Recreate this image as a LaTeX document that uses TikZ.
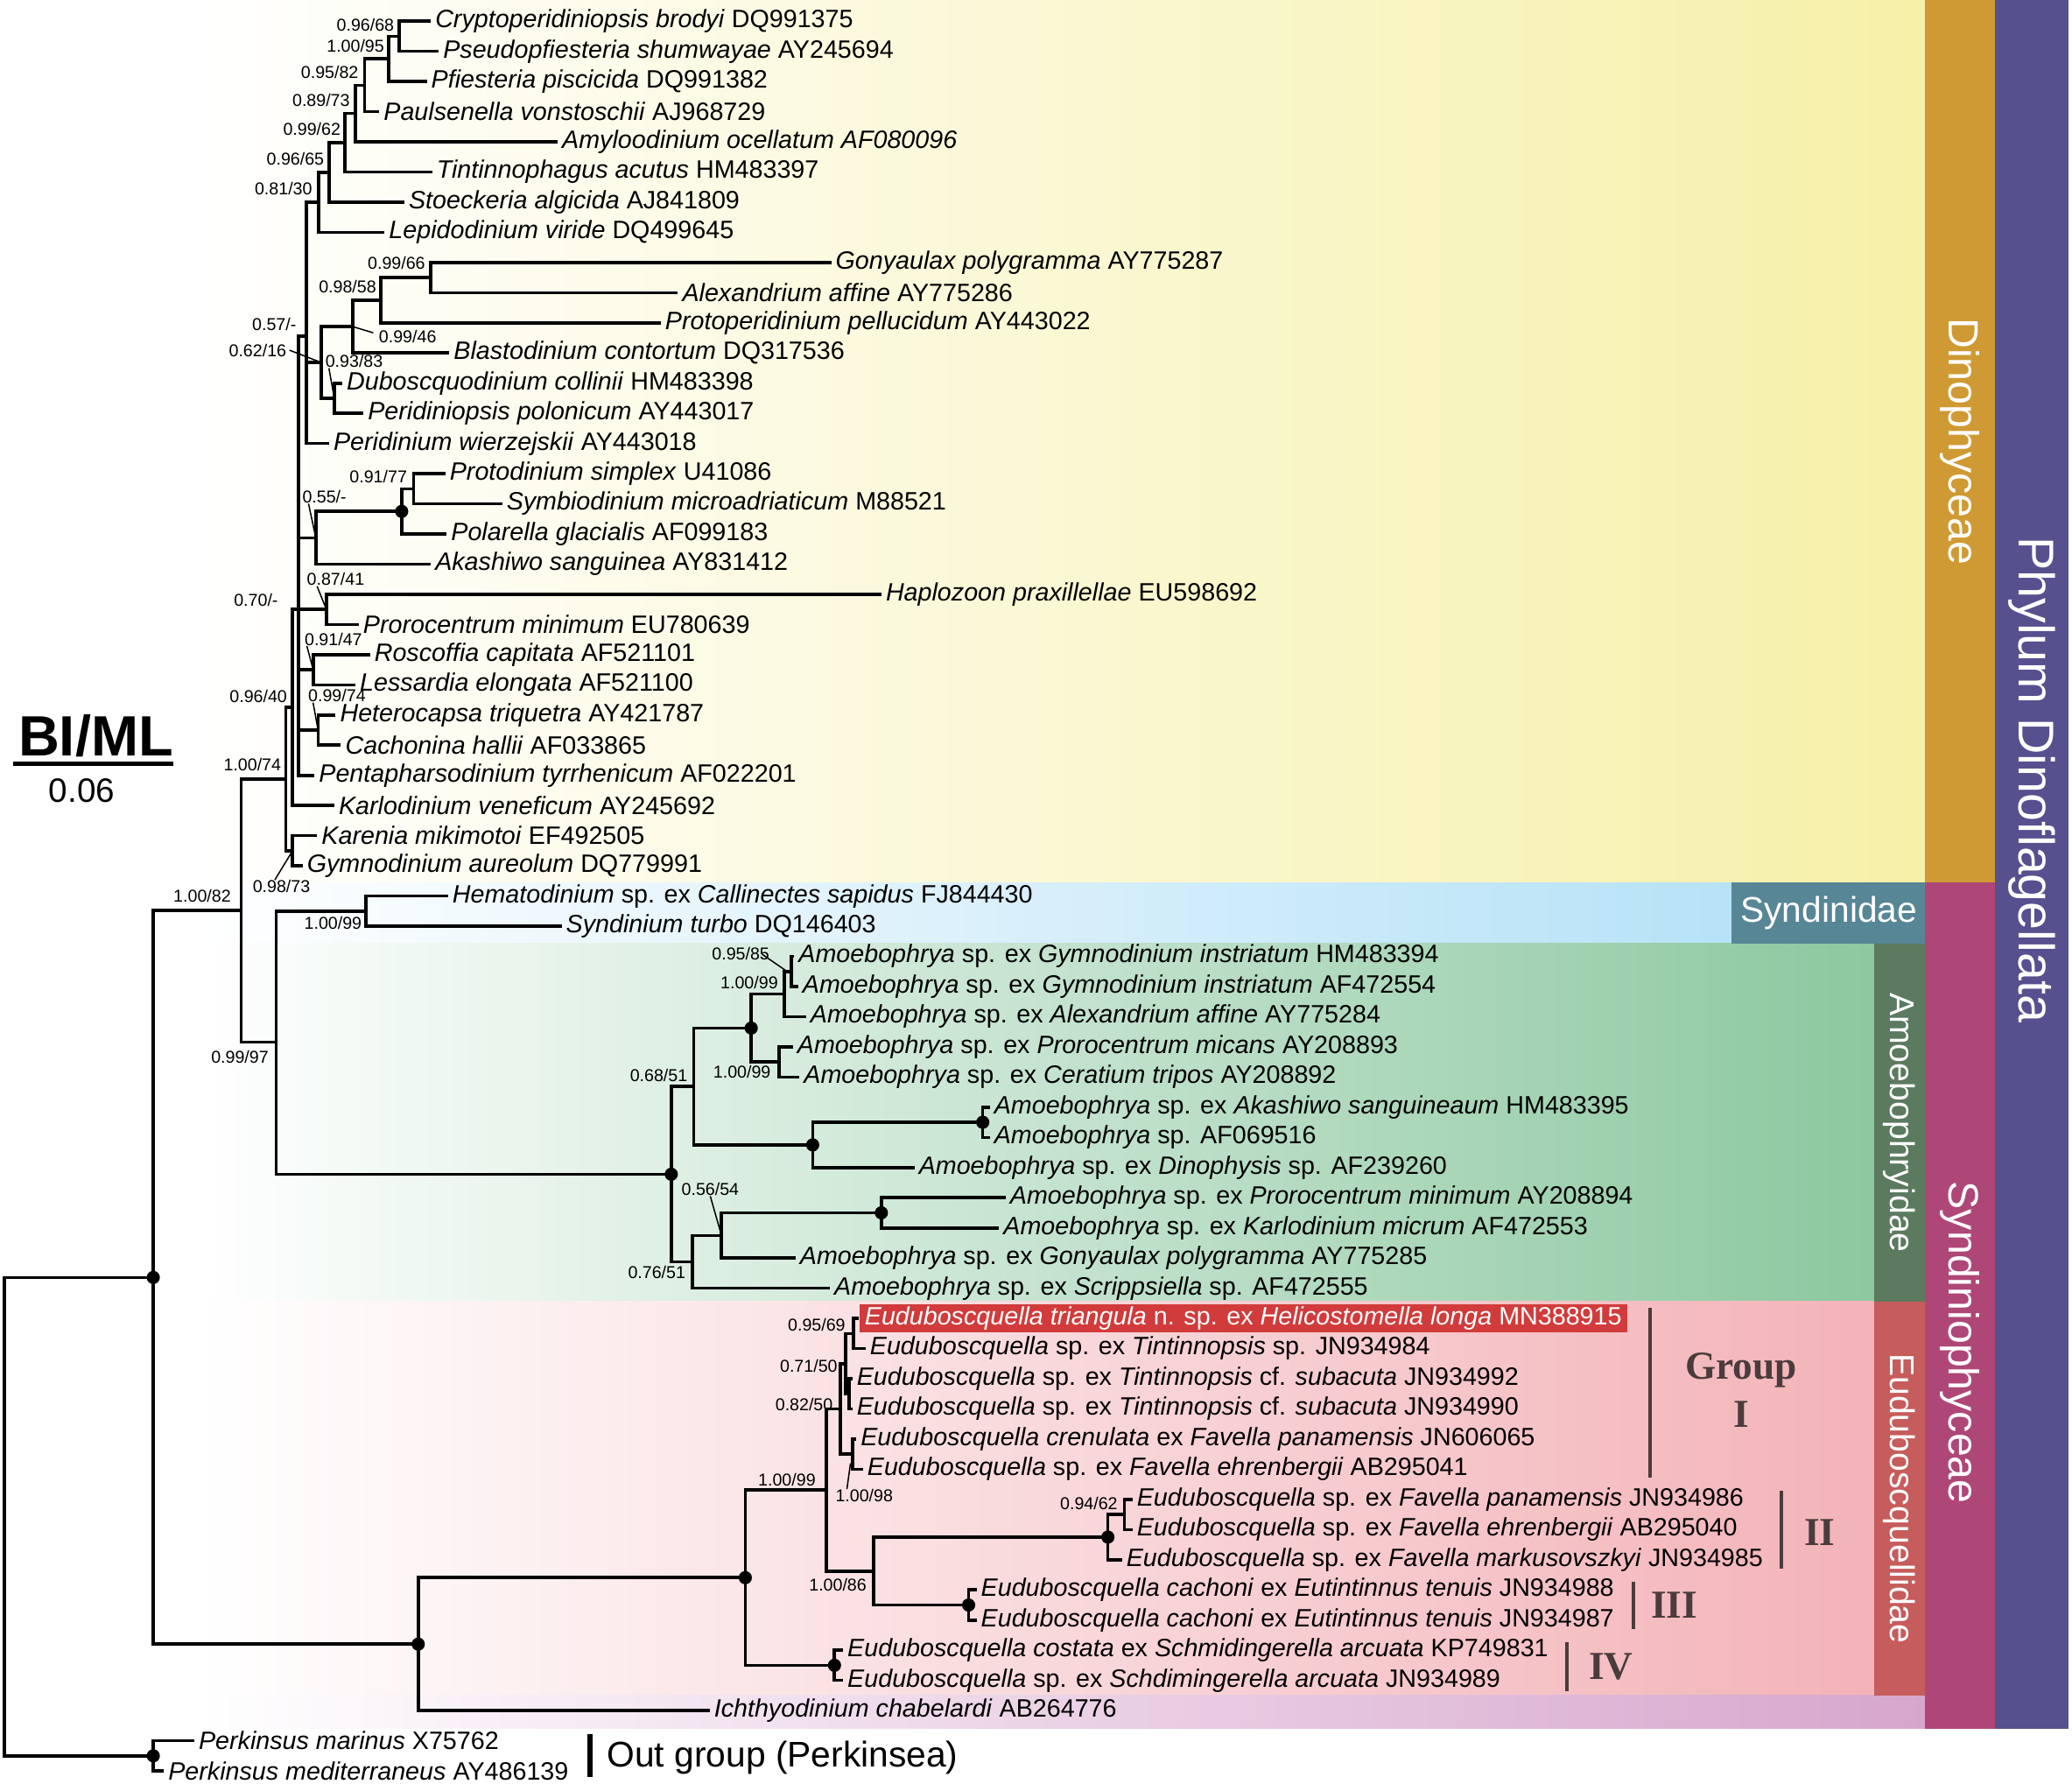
\documentclass[tikz,border=0pt]{standalone}
\usepackage{fontspec}
\setmainfont{Liberation Sans}
\newfontfamily\grpfont{Liberation Serif}
\usetikzlibrary{calc}
\definecolor{yelbg}{HTML}{F6F0A8}
\definecolor{bluebg}{HTML}{B7E2F7}
\definecolor{greenbg}{HTML}{8CC8A0}
\definecolor{pinkbg}{HTML}{F3B3B8}
\definecolor{lavbg}{HTML}{D7A6CD}
\definecolor{orng}{HTML}{CF9A33}
\definecolor{purp}{HTML}{57508F}
\definecolor{mag}{HTML}{AE4777}
\definecolor{synbox}{HTML}{578696}
\definecolor{amobox}{HTML}{5B7A5F}
\definecolor{eudbox}{HTML}{C65C5C}
\definecolor{redbox}{HTML}{D13B3B}
\definecolor{grpcol}{HTML}{4A3C3C}
\begin{document}
\begin{tikzpicture}[x=0.5pt,y=-0.5pt,
  br/.style={line width=1.2pt,black},
  lead/.style={line width=0.5pt,black},
  tax/.style={anchor=west,inner xsep=1.5pt,inner ysep=0pt,font=\fontsize{9.5}{11}\selectfont},
  sup/.style={inner sep=0pt,font=\fontsize{6.5}{7.5}\selectfont},
  dotn/.style={circle,fill=black,inner sep=0pt,minimum size=5pt},
  bandtxt/.style={text=white,rotate=-90,inner sep=0pt},
  grp/.style={text=grpcol,font=\grpfont\bfseries\fontsize{15}{16}\selectfont,inner sep=0pt},
  grpbar/.style={draw=grpcol,line width=1.3pt}]
\useasboundingbox (0,0) rectangle (1568,1350);
\fill[white] (0,0) rectangle (1568,1350);
% ---------- background bands ----------
\shade[left color=white,right color=yelbg] (150,0) rectangle (1457,668);
\shade[left color=white,right color=bluebg] (150,668) rectangle (1310,714);
\shade[left color=white,right color=greenbg] (150,714) rectangle (1418,985);
\shade[left color=white,right color=pinkbg] (150,985) rectangle (1418,1283);
\shade[left color=white,right color=lavbg] (150,1283) rectangle (1457,1308);
\fill[orng] (1457,0) rectangle (1510,668);
\fill[mag] (1457,668) rectangle (1510,1308);
\fill[purp] (1510,0) rectangle (1565,1308);
\fill[synbox] (1310,668) rectangle (1457,714);
\fill[amobox] (1418,714) rectangle (1457,985);
\fill[eudbox] (1418,985) rectangle (1457,1283);
\node[bandtxt,font=\fontsize{16}{18}\selectfont] (tDino) at (1483.5,334) {Dinophyceae};
\node[bandtxt,font=\fontsize{19}{21}\selectfont] (tPhy) at (1537.5,590) {Phylum Dinoflagellata};
\node[bandtxt,font=\fontsize{16}{18}\selectfont] (tSyp) at (1483.5,1016) {Syndiniophyceae};
\node[bandtxt,font=\fontsize{13}{15}\selectfont] (tAmo) at (1437.5,849.5) {Amoebophryidae};
\node[bandtxt,font=\fontsize{13}{15}\selectfont] (tEud) at (1437.5,1134) {Euduboscquellidae};
\node[text=white,inner sep=0pt,font=\fontsize{13.5}{15}\selectfont] (tSyn) at (1384,691) {Syndinidae};
% ---------- tips ----------
\foreach \i/\x in {1/326,2/332,3/323,4/287,5/422,6/327,7/306,8/291,9/629,10/513,
  11/500,12/340,13/259,14/275,15/249,16/337,17/380,18/338,19/326,20/667,
  21/271.5,22/280,23/269,24/254,25/258,26/238,27/253,28/240,29/229,30/339,
  31/425,32/601,33/604,34/610,35/600,36/605,37/749,38/749,39/692,40/761,
  41/756,42/602,43/628,44/650,45/655,46/645,47/645,48/648,49/653,50/857,
  51/857,52/849,53/739,54/739,55/638,56/638,57/537,58/147,59/124}
  {\coordinate (t\i) at (\x,{16+(\i-1)*22.83});}
% ---------- internal nodes ----------
\coordinate (n1) at (302,27.4);
\coordinate (n2) at (294,44.5);
\coordinate (n3) at (276,64.5);
\coordinate (n4) at (269,85.9);
\coordinate (n5) at (261,108.1);
\coordinate (n6) at (249,130.5);
\coordinate (n7) at (241,153.2);
\coordinate (n8) at (326,210.1);
\coordinate (n9) at (288,227.2);
\coordinate (n10) at (267,247.2);
\coordinate (n11) at (253,301.4);
\coordinate (n12) at (243,274.3);
\coordinate (n13) at (232,254.4);
\coordinate (n14) at (313,369.9);
\coordinate (n15) at (304,387.0);
\coordinate (n16) at (239,407.0);
\coordinate (n17) at (247,461.2);
\coordinate (n18) at (237,506.8);
\coordinate (n19) at (240.7,552.5);
\coordinate (n20) at (225.8,461.2);
\coordinate (n21) at (221.4,535.4);
\coordinate (n22) at (221.4,643.8);
\coordinate (n23) at (216.3,589.6);
\coordinate (n24) at (182.5,689.1);
\coordinate (n25) at (277,689.5);
\coordinate (n26) at (209,788.6);
\coordinate (a1) at (598.7,735.2);
\coordinate (a2) at (593.6,752.3);
\coordinate (a3) at (589.4,803.6);
\coordinate (a4) at (568.5,778.0);
\coordinate (a5) at (743.7,849.3);
\coordinate (a6) at (615,866.4);
\coordinate (a7) at (525,822.2);
\coordinate (a8) at (667,917.8);
\coordinate (a9) at (546,934.9);
\coordinate (a10) at (524,954.9);
\coordinate (a11) at (508,888.6);
\coordinate (e1) at (645.9,1009.1);
\coordinate (e2) at (642.5,1054.8);
\coordinate (e3) at (640,1032.0);
\coordinate (e4) at (645.2,1100.4);
\coordinate (e5) at (636,1066.2);
\coordinate (e6) at (851,1146.1);
\coordinate (e7) at (838.4,1163.2);
\coordinate (e8) at (733,1214.6);
\coordinate (e9) at (661,1188.9);
\coordinate (e10) at (625.5,1127.6);
\coordinate (e11) at (631.5,1260.2);
\coordinate (e12) at (564,1193.9);
\coordinate (e13) at (316.5,1244.2);
\coordinate (r1) at (116,966.7);
\coordinate (p1) at (116,1328.7);
\coordinate (root) at (3.5,1147.7);
% ---------- branches ----------
\foreach \p/\c in {n1/t1,n1/t2,n2/n1,n2/t3,n3/n2,n3/t4,n4/n3,n4/t5,n5/n4,n5/t6,n6/n5,n6/t7,n7/n6,n7/t8,
  n8/t9,n8/t10,n9/n8,n9/t11,n10/n9,n10/t12,n11/t13,n11/t14,n12/n10,n12/n11,n13/n7,n13/n12,n13/t15,
  n14/t16,n14/t17,n15/n14,n15/t18,n16/n15,n16/t19,n17/t20,n17/t21,n18/t22,n18/t23,n19/t24,n19/t25,
  n20/n13,n20/n16,n20/n17,n20/n18,n20/n19,n20/t26,n21/n20,n21/t27,n22/t28,n22/t29,n23/n21,n23/n22,
  n24/n23,n24/n26,n25/t30,n25/t31,n26/n25,n26/a11,
  a1/t32,a1/t33,a2/a1,a2/t34,a3/t35,a3/t36,a4/a2,a4/a3,a5/t37,a5/t38,a6/a5,a6/t39,a7/a4,a7/a6,
  a8/t40,a8/t41,a9/a8,a9/t42,a10/a9,a10/t43,a11/a7,a11/a10,
  e1/t44,e1/t45,e2/t46,e2/t47,e3/e1,e3/e2,e4/t48,e4/t49,e5/e3,e5/e4,e6/t50,e6/t51,e7/e6,e7/t52,
  e8/t53,e8/t54,e9/e7,e9/e8,e10/e5,e10/e9,e11/t55,e11/t56,e12/e10,e12/e11,e13/e12,e13/t57,
  r1/n24,r1/e13,p1/t58,p1/t59,root/r1,root/p1}
  {\draw[br] (\p) |- (\c);}
% ---------- dots ----------
\node[dotn] (d1) at (n15) {};
\node[dotn] (d2) at (a4) {};
\node[dotn] (d3) at (a5) {};
\node[dotn] (d4) at (a6) {};
\node[dotn] (d5) at (a8) {};
\node[dotn] (d6) at (a11) {};
\node[dotn] (d7) at (e7) {};
\node[dotn] (d8) at (e8) {};
\node[dotn] (d9) at (e11) {};
\node[dotn] (d10) at (e12) {};
\node[dotn] (d11) at (e13) {};
\node[dotn] (d12) at (r1) {};
\node[dotn] (d13) at (p1) {};
% ---------- tip labels ----------
\node[tax] (L1) at (t1) {\textit{Cryptoperidiniopsis brodyi} DQ991375};
\node[tax] (L2) at (t2) {\textit{Pseudopfiesteria shumwayae} AY245694};
\node[tax] (L3) at (t3) {\textit{Pfiesteria piscicida} DQ991382};
\node[tax] (L4) at (t4) {\textit{Paulsenella vonstoschii} AJ968729};
\node[tax] (L5) at (t5) {\textit{Amyloodinium ocellatum AF080096}};
\node[tax] (L6) at (t6) {\textit{Tintinnophagus acutus} HM483397};
\node[tax] (L7) at (t7) {\textit{Stoeckeria algicida} AJ841809};
\node[tax] (L8) at (t8) {\textit{Lepidodinium viride} DQ499645};
\node[tax] (L9) at (t9) {\textit{Gonyaulax polygramma} AY775287};
\node[tax] (L10) at (t10) {\textit{Alexandrium affine} AY775286};
\node[tax] (L11) at (t11) {\textit{Protoperidinium pellucidum} AY443022};
\node[tax] (L12) at (t12) {\textit{Blastodinium contortum} DQ317536};
\node[tax] (L13) at (t13) {\textit{Duboscquodinium collinii} HM483398};
\node[tax] (L14) at (t14) {\textit{Peridiniopsis polonicum} AY443017};
\node[tax] (L15) at (t15) {\textit{Peridinium wierzejskii} AY443018};
\node[tax] (L16) at (t16) {\textit{Protodinium simplex} U41086};
\node[tax] (L17) at (t17) {\textit{Symbiodinium microadriaticum} M88521};
\node[tax] (L18) at (t18) {\textit{Polarella glacialis} AF099183};
\node[tax] (L19) at (t19) {\textit{Akashiwo sanguinea} AY831412};
\node[tax] (L20) at (t20) {\textit{Haplozoon praxillellae} EU598692};
\node[tax] (L21) at (t21) {\textit{Prorocentrum minimum} EU780639};
\node[tax] (L22) at (t22) {\textit{Roscoffia capitata} AF521101};
\node[tax] (L23) at (t23) {\textit{Lessardia elongata} AF521100};
\node[tax] (L24) at (t24) {\textit{Heterocapsa triquetra} AY421787};
\node[tax] (L25) at (t25) {\textit{Cachonina hallii} AF033865};
\node[tax] (L26) at (t26) {\textit{Pentapharsodinium tyrrhenicum} AF022201};
\node[tax] (L27) at (t27) {\textit{Karlodinium veneficum} AY245692};
\node[tax] (L28) at (t28) {\textit{Karenia mikimotoi} EF492505};
\node[tax] (L29) at (t29) {\textit{Gymnodinium aureolum} DQ779991};
\node[tax] (L30) at (t30) {\textit{Hematodinium} sp. ex \textit{Callinectes sapidus} FJ844430};
\node[tax] (L31) at (t31) {\textit{Syndinium turbo} DQ146403};
\node[tax] (L32) at (t32) {\textit{Amoebophrya} sp. ex \textit{Gymnodinium instriatum} HM483394};
\node[tax] (L33) at (t33) {\textit{Amoebophrya} sp. ex \textit{Gymnodinium instriatum} AF472554};
\node[tax] (L34) at (t34) {\textit{Amoebophrya} sp. ex \textit{Alexandrium affine} AY775284};
\node[tax] (L35) at (t35) {\textit{Amoebophrya} sp. ex \textit{Prorocentrum micans} AY208893};
\node[tax] (L36) at (t36) {\textit{Amoebophrya} sp. ex \textit{Ceratium tripos} AY208892};
\node[tax] (L37) at (t37) {\textit{Amoebophrya} sp. ex \textit{Akashiwo sanguineaum} HM483395};
\node[tax] (L38) at (t38) {\textit{Amoebophrya} sp. AF069516};
\node[tax] (L39) at (t39) {\textit{Amoebophrya} sp. ex \textit{Dinophysis} sp. AF239260};
\node[tax] (L40) at (t40) {\textit{Amoebophrya} sp. ex \textit{Prorocentrum minimum} AY208894};
\node[tax] (L41) at (t41) {\textit{Amoebophrya} sp. ex \textit{Karlodinium micrum} AF472553};
\node[tax] (L42) at (t42) {\textit{Amoebophrya} sp. ex \textit{Gonyaulax polygramma} AY775285};
\node[tax] (L43) at (t43) {\textit{Amoebophrya} sp. ex \textit{Scrippsiella} sp. AF472555};
\node[tax,fill=redbox,text=white,inner xsep=2pt,minimum height=10.5pt] (L44) at (t44) {\textit{Euduboscquella triangula} n. sp. ex \textit{Helicostomella longa} MN388915};
\node[tax] (L45) at (t45) {\textit{Euduboscquella} sp. ex \textit{Tintinnopsis} sp. JN934984};
\node[tax] (L46) at (t46) {\textit{Euduboscquella} sp. ex \textit{Tintinnopsis} cf. \textit{subacuta} JN934992};
\node[tax] (L47) at (t47) {\textit{Euduboscquella} sp. ex \textit{Tintinnopsis} cf. \textit{subacuta} JN934990};
\node[tax] (L48) at (t48) {\textit{Euduboscquella crenulata} ex \textit{Favella panamensis} JN606065};
\node[tax] (L49) at (t49) {\textit{Euduboscquella} sp. ex \textit{Favella ehrenbergii} AB295041};
\node[tax] (L50) at (t50) {\textit{Euduboscquella} sp. ex \textit{Favella panamensis} JN934986};
\node[tax] (L51) at (t51) {\textit{Euduboscquella} sp. ex \textit{Favella ehrenbergii} AB295040};
\node[tax] (L52) at (t52) {\textit{Euduboscquella} sp. ex \textit{Favella markusovszkyi} JN934985};
\node[tax] (L53) at (t53) {\textit{Euduboscquella cachoni} ex \textit{Eutintinnus tenuis} JN934988};
\node[tax] (L54) at (t54) {\textit{Euduboscquella cachoni} ex \textit{Eutintinnus tenuis} JN934987};
\node[tax] (L55) at (t55) {\textit{Euduboscquella costata} ex \textit{Schmidingerella arcuata} KP749831};
\node[tax] (L56) at (t56) {\textit{Euduboscquella} sp. ex \textit{Schdimingerella arcuata} JN934989};
\node[tax] (L57) at (t57) {\textit{Ichthyodinium chabelardi} AB264776};
\node[tax] (L58) at (t58) {\textit{Perkinsus marinus} X75762};
\node[tax] (L59) at (t59) {\textit{Perkinsus mediterraneus} AY486139};
% ---------- support values ----------
\node[sup] (s1) at (276.5,19) {0.96/68};
\node[sup] (s2) at (269,35) {1.00/95};
\node[sup] (s3) at (249.5,54.5) {0.95/82};
\node[sup] (s4) at (243,76) {0.89/73};
\node[sup] (s5) at (236,98) {0.99/62};
\node[sup] (s6) at (223.5,120) {0.96/65};
\node[sup] (s7) at (214.5,143) {0.81/30};
\node[sup] (s8) at (300,199) {0.99/66};
\node[sup] (s9) at (263,217) {0.98/58};
\node[sup] (s13) at (207.5,245.6) {0.57/-};
\node[sup] (s10) at (308.5,255) {0.99/46};
\node[sup] (s12) at (195,265) {0.62/16};
\node[sup] (s11) at (268,273.5) {0.93/83};
\node[sup] (s14) at (286.3,361) {0.91/77};
\node[sup] (s16) at (245.5,376) {0.55/-};
\node[sup] (s17) at (254,438.4) {0.87/41};
\node[sup] (s21) at (193.7,454.4) {0.70/-};
\node[sup] (s18) at (252.3,483.6) {0.91/47};
\node[sup] (s19) at (255,526.5) {0.99/74};
\node[sup] (s23) at (195.5,527) {0.96/40};
\node[sup] (s23b) at (191,578.7) {1.00/74};
\node[sup] (s22) at (213,671) {0.98/73};
\node[sup] (s24) at (153,677.8) {1.00/82};
\node[sup] (s25) at (252,698.7) {1.00/99};
\node[sup] (s26) at (181.5,799.7) {0.99/97};
\node[sup] (sa1) at (560.5,722) {0.95/85};
\node[sup] (sa2) at (567,743.5) {1.00/99};
\node[sup] (sa3) at (561.5,811) {1.00/99};
\node[sup] (sa7) at (498.5,814) {0.68/51};
\node[sup] (sa9) at (537.5,900) {0.56/54};
\node[sup] (sa10) at (497,963) {0.76/51};
\node[sup] (se1) at (618,1002.5) {0.95/69};
\node[sup] (se3) at (612,1033.4) {0.71/50};
\node[sup] (se5) at (608.5,1063) {0.82/50};
\node[sup] (se12) at (595.5,1119.5) {1.00/99};
\node[sup] (se4) at (654,1132) {1.00/98};
\node[sup] (se6) at (824,1138) {0.94/62};
\node[sup] (se9) at (634,1199.6) {1.00/86};
% leader lines
\draw[lead] (n10) -- ([xshift=-2pt,yshift=-1pt]s10.north west);
\draw[lead] ([xshift=1pt]s12.east) -- (n12);
\draw[lead] ([xshift=1.5pt]s11.south west) -- (n11);
\draw[lead] ([xshift=2.5pt]s16.south west) -- (n16);
\draw[lead] ([xshift=4pt]s17.south west) -- (n17);
\draw[lead] ([xshift=1pt]s18.south west) -- (n18);
\draw[lead] ([xshift=2pt]s19.south west) -- (n19);
\draw[lead] ([xshift=-2.5pt]s22.north) -- (n22);
\draw[lead] ([xshift=-3pt]sa1.east) -- ([xshift=-1.5pt]a1);
\draw[lead] (sa9.south) -- (a9);
\draw[lead] ([xshift=4.5pt]se4.north west) -- ([xshift=-0.8pt,yshift=-3.5pt]e4);
% ---------- group bars ----------
\coordinate (gIa) at (1248.5,990);   \coordinate (gIb) at (1248.5,1118);
\coordinate (gIIa) at (1348,1128);   \coordinate (gIIb) at (1348,1187);
\coordinate (gIIIa) at (1236,1197);  \coordinate (gIIIb) at (1236,1233);
\coordinate (gIVa) at (1186,1243);   \coordinate (gIVb) at (1186,1280);
\draw[grpbar] (gIa) -- (gIb);
\draw[grpbar] (gIIa) -- (gIIb);
\draw[grpbar] (gIIIa) -- (gIIIb);
\draw[grpbar] (gIVa) -- (gIVb);
\node[grp] (gr1) at (1317.5,1037) {Group};
\node[grp] (gr1b) at (1317.5,1070) {I};
\node[grp] (gr2) at (1377,1160) {II};
\node[grp] (gr3) at (1267,1215) {III};
\node[grp] (gr4) at (1219,1261) {IV};
% ---------- out group ----------
\coordinate (oga) at (446.7,1312); \coordinate (ogb) at (446.7,1345);
\draw[line width=2pt] (oga) -- (ogb);
\node[anchor=west,inner sep=0pt,font=\fontsize{13.5}{15}\selectfont] (og) at (459,1330) {Out group (Perkinsea)};
% ---------- scale ----------
\node[inner sep=0pt,font=\bfseries\fontsize{21.5}{23}\selectfont] (biml) at (72.5,557) {BI/ML};
\coordinate (sc1) at (10,578); \coordinate (sc2) at (131,578);
\draw[line width=1.5pt] (sc1) -- (sc2);
\node[inner sep=0pt,font=\fontsize{12.8}{14}\selectfont] (scl) at (62,598) {0.06};
\end{tikzpicture}
\end{document}
